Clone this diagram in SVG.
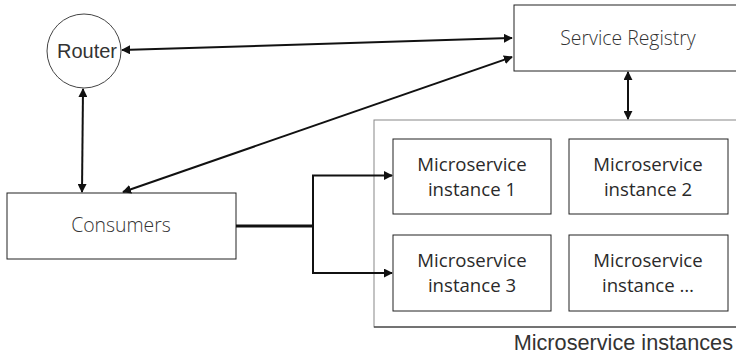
<svg xmlns="http://www.w3.org/2000/svg" width="736" height="356" viewBox="0 0 736 356">
<style>
.box{fill:#fff;stroke:#222;stroke-width:1}
.t{font-family:"Open Sans",sans-serif;font-size:19.4px;font-weight:300;fill:#333;text-anchor:middle}
.m{font-weight:400;font-size:18.6px;fill:#2a2a2a}
.a{font-family:"Liberation Sans",Arial,sans-serif;fill:#333}
.c{fill:none;stroke:#111;stroke-width:2}
</style>
<defs>
<marker id="ah" viewBox="0 0 10 10" refX="9" refY="5" markerWidth="4.5" markerHeight="4.5" orient="auto-start-reverse">
<path d="M0,0 L10,5 L0,10 z" fill="#111"/>
</marker>
</defs>
<g id="container">
<rect x="374" y="120" width="370" height="207" fill="#fff" stroke="#888" stroke-width="1"/>
<line x1="374" y1="327" x2="736" y2="327" stroke="#222" stroke-width="1"/>
<text class="a" x="733" y="350" font-size="21.7" text-anchor="end">Microservice instances</text>
</g>
<g id="router">
<circle cx="84" cy="51" r="37" fill="#fff" stroke="#444" stroke-width="1"/>
<text class="a" x="87" y="58" font-size="20" text-anchor="middle">Router</text>
</g>
<g id="registry">
<rect class="box" x="514" y="5" width="230" height="66"/>
<text class="t" x="628" y="45">Service Registry</text>
</g>
<g id="consumers">
<rect class="box" x="7" y="193" width="229" height="66"/>
<text class="t" x="121" y="232">Consumers</text>
</g>
<g id="ms1">
<rect class="box" x="393" y="139" width="158" height="75"/>
<text class="t m" x="472" y="171">Microservice</text>
<text class="t m" x="472" y="196">instance 1</text>
</g>
<g id="ms2">
<rect class="box" x="569" y="139" width="159" height="75"/>
<text class="t m" x="648" y="171">Microservice</text>
<text class="t m" x="648" y="196">instance 2</text>
</g>
<g id="ms3">
<rect class="box" x="393" y="235" width="158" height="76"/>
<text class="t m" x="472" y="267">Microservice</text>
<text class="t m" x="472" y="292">instance 3</text>
</g>
<g id="ms4">
<rect class="box" x="569" y="235" width="159" height="76"/>
<text class="t m" x="648" y="267">Microservice</text>
<text class="t m" x="648" y="292">instance …</text>
</g>
<g id="connectors">
<line class="c" x1="122" y1="50" x2="512" y2="38" marker-start="url(#ah)" marker-end="url(#ah)"/>
<line class="c" x1="512" y1="57" x2="123" y2="192" marker-start="url(#ah)" marker-end="url(#ah)"/>
<line class="c" x1="83" y1="89" x2="82" y2="192" marker-start="url(#ah)" marker-end="url(#ah)"/>
<line class="c" x1="628" y1="72" x2="628" y2="119" marker-start="url(#ah)" marker-end="url(#ah)"/>
<line x1="236" y1="226" x2="313" y2="226" stroke="#111" stroke-width="3"/>
<polyline class="c" points="313,226 313,175.5 392,175.5" marker-end="url(#ah)"/>
<polyline class="c" points="313,226 313,273 392,273" marker-end="url(#ah)"/>
</g>
</svg>
